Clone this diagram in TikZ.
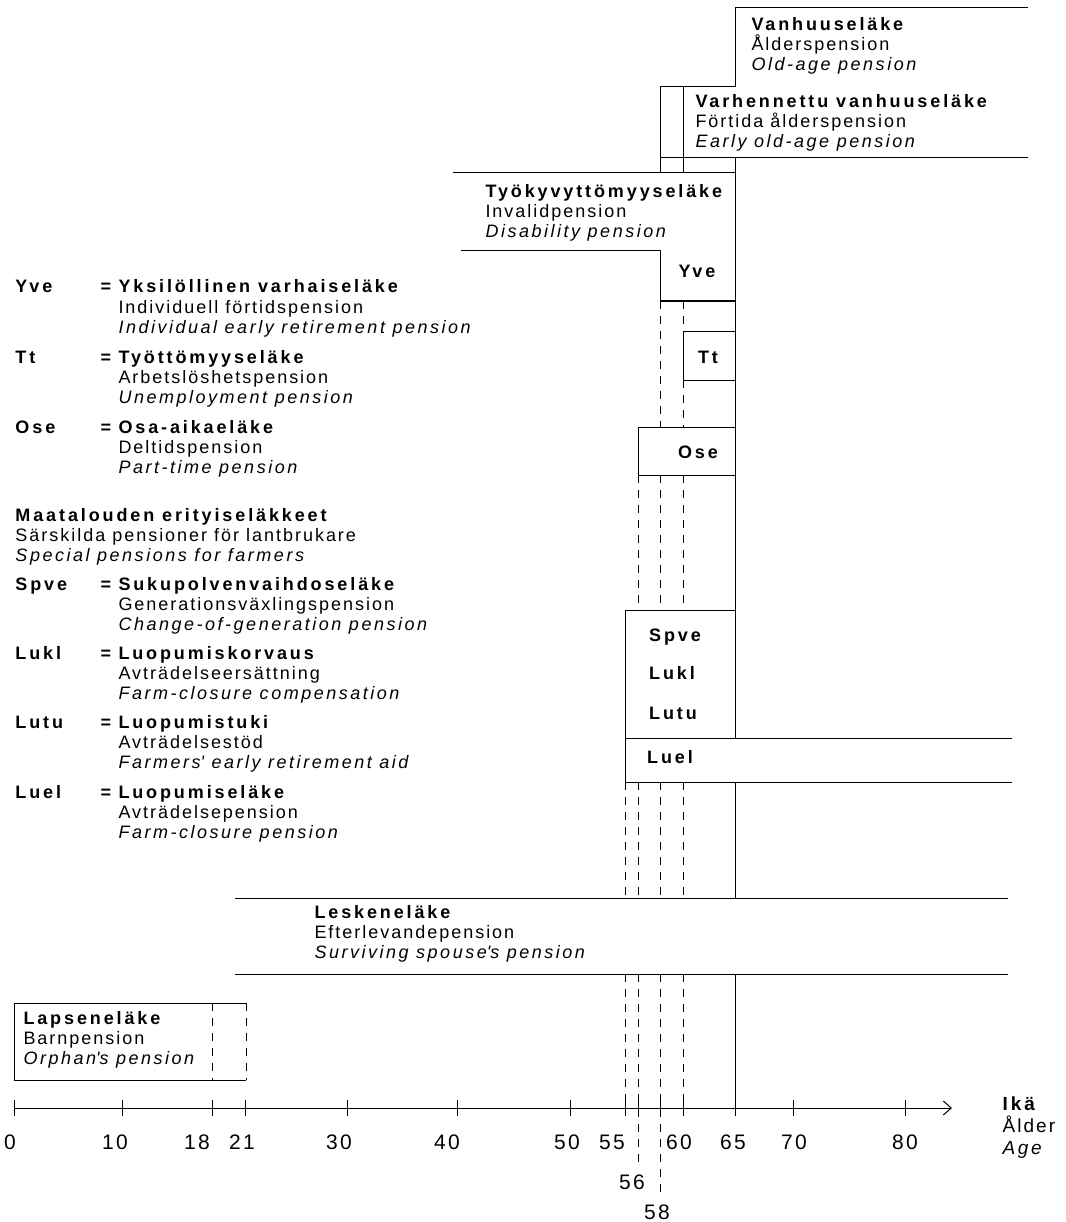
\documentclass[tikz,border=0pt]{standalone}
\usepackage{fontspec}
\setmainfont{Liberation Sans}[
  UprightFeatures={LetterSpace=11},
  BoldFeatures={LetterSpace=16},
  ItalicFeatures={LetterSpace=14}]
\usetikzlibrary{arrows.meta}

% three-line labels are anchored at the baseline of their last line
\tikzset{
  txt/.style={anchor=base west, inner sep=0pt, align=left, font=\fontsize{18}{20}\selectfont},
  abbr/.style={anchor=base west, inner sep=0pt, font=\fontsize{18}{20}\selectfont\bfseries},
  inbox/.style={anchor=base, inner sep=0pt, font=\fontsize{18}{20}\selectfont\bfseries},
  num/.style={anchor=base, inner sep=0pt, font=\fontsize{21}{24}\selectfont},
  guide/.style={dash pattern=on 8pt off 7pt}
}

\begin{document}
\begin{tikzpicture}[x=1pt, y=-1pt, line width=1pt]
\useasboundingbox (0,0) rectangle (1065,1222);

% old-age and early old-age pension
\draw (735,87) -- (735,8) -- (1028,8);
\draw (660,173) -- (660,87) -- (735,87);
\draw (683,87) -- (683,173);
\draw (660,158) -- (1028,158);
\node[txt] (vanhuus) at (751,71) {\textbf{Vanhuuseläke}\\Ålderspension\\\textit{Old-age pension}};
\node[txt] (varhennettu) at (695,148) {\textbf{Varhennettu vanhuuseläke}\\Förtida ålderspension\\\textit{Early old-age pension}};

% disability pension and Yve
\draw (453,173) -- (735,173);
\draw (461,251) -- (660,251) -- (660,301) -- (735,301);
\draw (735,158) -- (735,738);
\node[txt] (tyokyvyttomyys) at (485,238) {\textbf{Työkyvyttömyyseläke}\\Invalidpension\\\textit{Disability pension}};

% Tt, Ose and the farmers' box
\draw (683,331) rectangle (735,380);
\draw (638,427) rectangle (735,475);
\draw (625,610) rectangle (735,738);
\draw (1012,738) -- (625,738) -- (625,782) -- (1012,782);
\draw (735,782) -- (735,898);
\node[inbox] (yvebox) at (697,278) {Yve};
\node[inbox] (ttbox) at (708,363) {Tt};
\node[inbox] (osebox) at (698,458) {Ose};
\node[inbox] (spvebox) at (675,641) {Spve};
\node[inbox] (luklbox) at (672,679) {Lukl};
\node[inbox] (lutubox) at (673,719) {Lutu};
\node[inbox] (luelbox) at (670,763) {Luel};

% dashed age guides
\draw[guide] (660,301) -- (660,427);
\draw[guide] (683,301) -- (683,331);
\draw[guide] (683,380) -- (683,427);
\foreach \x in {638,660,683} \draw[guide] (\x,475) -- (\x,610);
\foreach \x in {625,638,660,683} \draw[guide] (\x,782) -- (\x,898);
\foreach \x/\e in {625/1116,638/1162,660/1197,683/1108} \draw[guide] (\x,974) -- (\x,\e);

% surviving spouse's pension
\draw (235,898) -- (1008,898);
\draw (235,974) -- (1008,974);
\draw (735,974) -- (735,1108);
\node[txt] (leskenelake) at (314,958) {\textbf{Leskeneläke}\\Efterlevandepension\\\textit{Surviving spouse\textquotesingle s pension}};

% orphan's pension
\draw (246,1003) -- (14,1003) -- (14,1080) -- (246,1080);
\draw[guide] (212,1003) -- (212,1080);
\draw[guide] (246,1003) -- (246,1080);
\node[txt] (lapsenelake) at (23,1064) {\textbf{Lapseneläke}\\Barnpension\\\textit{Orphan\textquotesingle s pension}};

% legend
\foreach \y/\a in {293/Yve,363/Tt,433/Ose,590/Spve,659/Lukl,728/Lutu,798/Luel} {
  \node[abbr] (\a) at (15,\y) {\a};
  \node[abbr] (eq\a) at (100,\y) {=};
}
\node[txt] (yve) at (118,333) {\textbf{Yksilöllinen varhaiseläke}\\Individuell förtidspension\\\textit{Individual early retirement pension}};
\node[txt] (tt) at (118,403) {\textbf{Työttömyyseläke}\\Arbetslöshetspension\\\textit{Unemployment pension}};
\node[txt] (ose) at (118,473) {\textbf{Osa-aikaeläke}\\Deltidspension\\\textit{Part-time pension}};
\node[txt] (maatalous) at (15,561) {\textbf{Maatalouden erityiseläkkeet}\\Särskilda pensioner för lantbrukare\\\textit{Special pensions for farmers}};
\node[txt] (spve) at (118,630) {\textbf{Sukupolvenvaihdoseläke}\\Generationsväxlingspension\\\textit{Change-of-generation pension}};
\node[txt] (lukl) at (118,699) {\textbf{Luopumiskorvaus}\\Avträdelseersättning\\\textit{Farm-closure compensation}};
\node[txt] (lutu) at (118,768) {\textbf{Luopumistuki}\\Avträdelsestöd\\\textit{Farmers\textquotesingle\ early retirement aid}};
\node[txt] (luel) at (118,838) {\textbf{Luopumiseläke}\\Avträdelsepension\\\textit{Farm-closure pension}};

% age axis
\draw[-{Straight Barb[length=8pt,width=14pt]}] (14,1108) -- (952,1108);
\foreach \x in {14,122,212,245,347,457,570,625,638,660,683,735,793,905} \draw (\x,1100) -- (\x,1116);
\foreach \x/\t in {10/0,115/10,197/18,242/21,339/30,447/40,567/50,612/55,679/60,733/65,794/70,905/80}
  \node[num] (n\t) at (\x,1149) {\t};
\node[num] (n56) at (632,1189) {56};
\node[num] (n58) at (657,1219) {58};
\node[txt, font=\fontsize{19}{22}\selectfont] (ika) at (1002,1154) {\textbf{Ikä}\\Ålder\\\textit{Age}};
\end{tikzpicture}
\end{document}
